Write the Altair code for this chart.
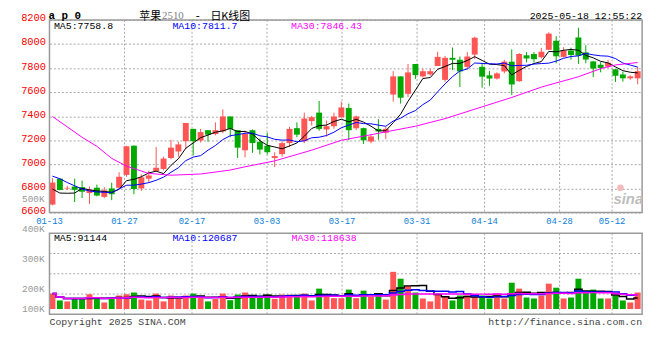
import altair as alt
import pandas as pd
import numpy as np

# ---------------- data ----------------
date_labels = ["01-13", "01-27", "02-17", "03-03", "03-17", "03-31", "04-14", "04-28", "05-12"]
date_index = [0, 10, 19, 29, 39, 49, 58, 68, 75]

opens = [6666, 6881, 6800, 6816, 6811, 6762, 6806, 6730, 6800, 6806,
         6913, 7155, 6800, 6881, 6945, 6962, 7053, 7107, 7193, 7295,
         7198, 7284, 7252, 7274, 7398, 7284, 7117, 7284, 7188, 7155,
         7053, 7085, 7177, 7301, 7193, 7360, 7430, 7290, 7317, 7392,
         7468, 7300, 7301, 7190, 7295, 7263, 7580, 7731, 7586, 7834,
         7731, 7748, 7817, 7702, 7885, 7869, 7810, 7912, 7810, 7740,
         7713, 7772, 7853, 7691, 7906, 7917, 7890, 7952, 8027, 7893,
         7946, 8054, 7930, 7855, 7828, 7812, 7790, 7747, 7715, 7715]
highs = [6886, 6885, 6822, 6881, 6865, 6816, 6832, 6811, 6848, 6935,
         7155, 7158, 6918, 6948, 7144, 7064, 7204, 7188, 7344, 7295,
         7295, 7284, 7349, 7457, 7398, 7284, 7279, 7290, 7215, 7263,
         7101, 7193, 7311, 7349, 7430, 7403, 7527, 7365, 7430, 7521,
         7505, 7405, 7305, 7245, 7376, 7311, 7774, 7731, 7834, 7834,
         7796, 7796, 7936, 7901, 7971, 7896, 7933, 8060, 7842, 7777,
         7765, 7869, 7955, 7925, 7933, 7933, 7968, 8097, 8065, 7973,
         7970, 8135, 7990, 7860, 7850, 7868, 7790, 7770, 7740, 7810]
lows = [6660, 6785, 6787, 6687, 6720, 6671, 6735, 6720, 6703, 6800,
        6897, 6752, 6780, 6848, 6940, 6950, 7042, 7064, 7128, 7075,
        7182, 7188, 7241, 7258, 7225, 7053, 7058, 7096, 7083, 7083,
        6978, 7064, 7145, 7225, 7177, 7322, 7279, 7231, 7295, 7387,
        7200, 7285, 7170, 7175, 7204, 7210, 7521, 7505, 7559, 7710,
        7721, 7737, 7817, 7686, 7783, 7643, 7788, 7874, 7637, 7653,
        7705, 7756, 7578, 7686, 7847, 7847, 7880, 7950, 7840, 7887,
        7870, 7835, 7840, 7725, 7765, 7800, 7685, 7687, 7703, 7665]
closes = [6849, 6787, 6805, 6789, 6773, 6789, 6741, 6784, 6752, 6897,
          7150, 6795, 6893, 6908, 6972, 7048, 7139, 7166, 7344, 7193,
          7268, 7247, 7284, 7398, 7295, 7139, 7252, 7177, 7123, 7101,
          7069, 7177, 7295, 7247, 7381, 7392, 7295, 7317, 7398, 7473,
          7284, 7398, 7200, 7232, 7274, 7295, 7731, 7554, 7764, 7742,
          7774, 7774, 7893, 7885, 7869, 7772, 7896, 8052, 7729, 7713,
          7756, 7853, 7664, 7917, 7880, 7874, 7936, 8086, 7898, 7946,
          7909, 7903, 7871, 7796, 7801, 7844, 7736, 7715, 7731, 7774]
volumes = [146000, 81000, 72000, 103000, 97000, 140000, 103000, 62000, 109000, 128000,
           140000, 156000, 90000, 81000, 146000, 72000, 128000, 97000, 128000, 146000,
           115000, 72000, 97000, 146000, 84000, 137000, 156000, 115000, 109000, 137000,
           97000, 137000, 137000, 128000, 146000, 81000, 193000, 137000, 103000, 103000,
           184000, 103000, 174000, 118000, 146000, 90000, 352000, 287000, 221000, 156000,
           100000, 72000, 137000, 118000, 81000, 128000, 128000, 112000, 128000, 100000,
           146000, 100000, 249000, 193000, 109000, 100000, 128000, 240000, 202000, 100000,
           109000, 287000, 156000, 184000, 100000, 100000, 128000, 81000, 62000, 156000]

# moving-average values read where the window reaches back before 01-13
ma5_head = [6795, 6762, 6760, 6762]
ma10_head = [6902, 6881, 6849, 6822, 6795, 6779, 6771, 6768, 6765]
ma30_index = [0, 4, 6, 8, 10, 13, 16, 20, 24, 26, 30, 35, 39, 44, 49, 53, 58, 62, 66, 71, 74, 76, 79]
ma30_values = [7398, 7225, 7150, 7050, 6985, 6925, 6910, 6920, 6953, 6980, 7029, 7118, 7200,
               7258, 7317, 7380, 7478, 7556, 7642, 7728, 7795, 7826, 7846]

price_ticks = [6600, 6800, 7000, 7200, 7400, 7600, 7800, 8000, 8200]
price_legend = ["MA5:7758.8", "MA10:7811.7", "MA30:7846.43"]
volume_legend = ["MA5:91144", "MA10:120687", "MA30:118638"]
volume_axis_labels = ["100K", "200K", "300K", "400K", "500K"]

# ---------------- layout ----------------
W, H = 600, 298
PRICE_H = 195
VOL_TOP = 216
VOL_BASE = 292.7
VOL_PX = 0.000107            # px per lot
RED, GREEN = "#FF5555", "#00A800"
MA_COLORS = ["#000000", "#0000FF", "#FF00FF"]
GRID = "#A8A8A8"
MONO = "Liberation Mono"
CJK = "Noto Sans CJK SC"
HEAD_Y = -4
CJK_Y = -3

n = len(closes)
ppu = PRICE_H / (price_ticks[-1] - price_ticks[0])
pmin = price_ticks[-1] - H / ppu
vmin = -(H - VOL_BASE) / VOL_PX
vmax = VOL_BASE / VOL_PX

df = pd.DataFrame({"i": np.arange(n), "open": opens, "high": highs, "low": lows,
                   "close": closes, "vol": volumes})
df["x0"] = df["i"]
df["x1"] = df["i"] + 0.8
df["xc"] = df["i"] + 0.4
df["dir"] = np.where(df["close"] >= df["open"], "up", "down")
df["base"] = 0
df["ma5"] = df["close"].rolling(5).mean()
df.loc[: len(ma5_head) - 1, "ma5"] = ma5_head
df["ma10"] = df["close"].rolling(10).mean()
df.loc[: len(ma10_head) - 1, "ma10"] = ma10_head
df["vma5"] = df["vol"].rolling(5, min_periods=1).mean()
df["vma10"] = df["vol"].rolling(10, min_periods=1).mean()
df["vma30"] = df["vol"].rolling(30, min_periods=1).mean()

ma30 = pd.DataFrame({"i": ma30_index, "ma30": ma30_values})
ma30["xc"] = ma30["i"] + 0.4

ticks = pd.DataFrame({"label": date_labels, "idx": date_index})
ticks["tx"] = ticks["idx"] * n / (n - 1)

XS = alt.Scale(domain=[0, n], nice=False, zero=False)
PS = alt.Scale(domain=[pmin, price_ticks[-1]], nice=False, zero=False)
VS = alt.Scale(domain=[vmin, vmax], nice=False, zero=False)
CS = alt.Scale(domain=["up", "down"], range=[RED, GREEN])

price_axis = alt.Axis(values=price_ticks, orient="left", grid=True, gridColor=GRID,
                      gridDash=[2, 2], gridWidth=1, ticks=False, domain=False, format="d",
                      labelColor="#FF0000", labelFont=MONO, labelFontSize=10.5,
                      labelPadding=4, labelOffset=-2, labelOverlap=False, title=None)


def X(field):
    return alt.X(field, type="quantitative", scale=XS, axis=None)


def txt(s, x, y, **kw):
    return alt.Chart(alt.Data(values=[{"t": s}])).mark_text(**kw).encode(
        x=alt.value(x), y=alt.value(y), text="t:N")


one = alt.Data(values=[{"a": 1}])
layers = []

# vertical grid lines in both panels
layers.append(alt.Chart(ticks).mark_rule(color=GRID, strokeDash=[2, 2], strokeWidth=1).encode(
    x=X("tx"), y=alt.value(0), y2=alt.value(PRICE_H)))
layers.append(alt.Chart(ticks).mark_rule(color=GRID, strokeDash=[2, 2], strokeWidth=1).encode(
    x=X("tx"), y=alt.value(VOL_TOP), y2=alt.value(H)))
# horizontal grid lines in the volume panel (quarters)
vgrid = pd.DataFrame({"py": [VOL_TOP + (H - VOL_TOP) * q for q in (0.25, 0.5, 0.75)]})
layers.append(alt.Chart(vgrid).mark_rule(color=GRID, strokeDash=[2, 2], strokeWidth=1).encode(
    y=alt.Y("py:Q", scale=None), x=alt.value(0), x2=alt.value(W)))

# candles
layers.append(alt.Chart(df).mark_rule(strokeWidth=1).encode(
    x=X("xc"), y=alt.Y("low:Q", scale=PS, axis=price_axis), y2="high:Q",
    color=alt.Color("dir:N", scale=CS, legend=None)))
layers.append(alt.Chart(df).mark_rect().encode(
    x=X("x0"), x2="x1", y=alt.Y("open:Q", scale=PS, axis=None), y2="close:Q",
    color=alt.Color("dir:N", scale=CS, legend=None)))

# price moving averages
for col, c in (("ma5", MA_COLORS[0]), ("ma10", MA_COLORS[1])):
    layers.append(alt.Chart(df).mark_line(color=c, strokeWidth=1).encode(
        x=X("xc"), y=alt.Y(f"{col}:Q", scale=PS, axis=None)))
layers.append(alt.Chart(ma30).mark_line(color=MA_COLORS[2], strokeWidth=1).encode(
    x=X("xc"), y=alt.Y("ma30:Q", scale=PS, axis=None)))

# volume bars and their moving averages
layers.append(alt.Chart(df).mark_rect().encode(
    x=X("x0"), x2="x1", y=alt.Y("vol:Q", scale=VS, axis=None), y2="base:Q",
    color=alt.Color("dir:N", scale=CS, legend=None)))
for col, c in zip(("vma5", "vma10", "vma30"), MA_COLORS):
    layers.append(alt.Chart(df).mark_line(color=c, strokeWidth=1.5, interpolate="step").encode(
        x=X("xc"), y=alt.Y(f"{col}:Q", scale=VS, axis=None)))

# panel borders
layers.append(alt.Chart(one).mark_rect(fill="transparent", stroke="#9A9A9A", strokeWidth=1.5).encode(
    x=alt.value(0), x2=alt.value(W), y=alt.value(0), y2=alt.value(PRICE_H)))
layers.append(alt.Chart(one).mark_rect(fill="transparent", stroke="#9A9A9A", strokeWidth=1.5).encode(
    x=alt.value(0), x2=alt.value(W), y=alt.value(VOL_TOP), y2=alt.value(H)))

# date labels
layers.append(alt.Chart(ticks).mark_text(color="#0B7ED6", font=MONO, fontSize=9,
                                         align="center", baseline="middle").encode(
    x=X("tx"), y=alt.value(PRICE_H + 8.5), text="label:N"))

# legends
for s, c, lx in zip(price_legend, MA_COLORS, (4.5, 124.5, 244.5)):
    layers.append(txt(s, lx, 6, color=c, font=MONO, fontSize=10, align="left", baseline="middle"))
for s, c, lx in zip(volume_legend, MA_COLORS, (4.5, 124.5, 245)):
    layers.append(txt(s, lx, VOL_TOP + 4.5, color=c, font=MONO, fontSize=10, align="left",
                      baseline="middle"))

# volume axis labels (as placed by the source chart)
for s, py in zip(volume_axis_labels, (293, 272.7, 242, 212, 181)):
    layers.append(txt(s, -5, py, color="#999999", font=MONO, fontSize=9.5, align="right",
                      baseline="middle"))

# header
layers.append(txt("a p 0", -1, HEAD_Y, color="#000000", font=MONO, fontSize=11, fontWeight="bold",
                  align="left", baseline="middle"))
layers.append(txt("苹果", 91, CJK_Y, color="#000000", font=CJK, fontSize=11, align="left",
                  baseline="middle"))
layers.append(txt("2510", 114, HEAD_Y, color="#808080", font="Liberation Serif", fontSize=11,
                  align="left", baseline="middle"))
layers.append(txt("-", 150, HEAD_Y, color="#000000", font=MONO, fontSize=11, align="center",
                  baseline="middle"))
layers.append(txt("日K线图", 163, CJK_Y, color="#000000", font=CJK, fontSize=11, align="left",
                  baseline="middle"))
layers.append(txt("2025-05-18 12:55:22", W, HEAD_Y, color="#000000", font=MONO, fontSize=10,
                  align="right", baseline="middle"))

# watermark
layers.append(alt.Chart(one).mark_point(shape="circle", filled=True, color="#F2B4B4",
                                        size=45, opacity=0.9).encode(
    x=alt.value(578), y=alt.value(170)))
layers.append(txt("sina", 586, 181, color="#BDBDBD", font="Liberation Sans", fontSize=15,
                  fontStyle="italic", fontWeight="bold", align="center", baseline="middle"))

# footer
layers.append(txt("Copyright 2025 SINA.COM", 0, H + 8, color="#444444", font=MONO,
                  fontSize=10, align="left", baseline="middle"))
layers.append(txt("http://finance.sina.com.cn", W, H + 8, color="#444444", font=MONO,
                  fontSize=10, align="right", baseline="middle"))

chart = alt.layer(*layers).resolve_scale(y="independent").properties(
    width=W, height=H,
    autosize=alt.AutoSizeParams(type="none"),
    padding={"left": 42, "top": 10, "right": 10, "bottom": 26},
    background="white",
).configure_view(stroke="transparent")

chart.save("out.html", embed_options={"renderer": "svg", "actions": False})
